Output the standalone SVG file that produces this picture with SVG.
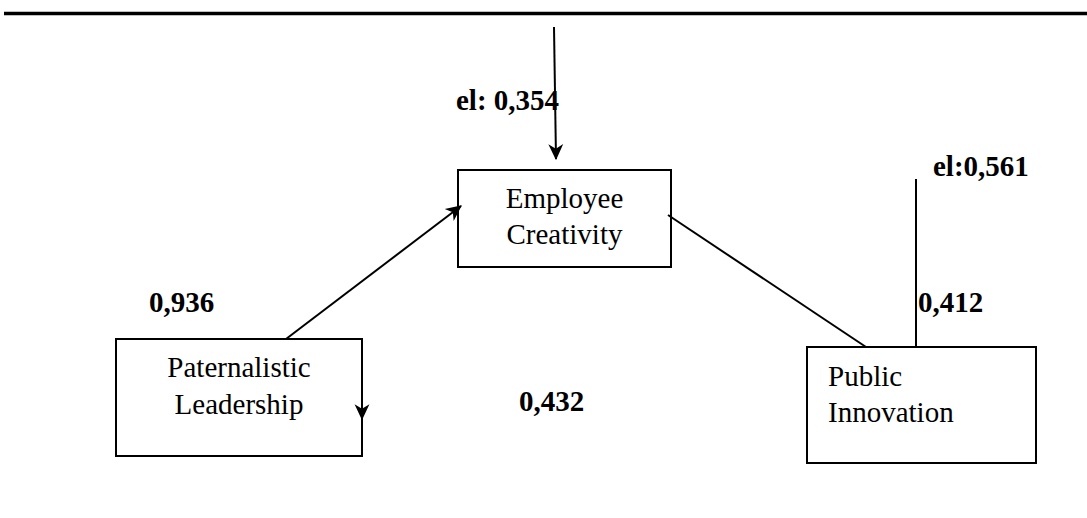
<svg xmlns="http://www.w3.org/2000/svg" width="1087" height="518" viewBox="0 0 1087 518">
<style>
.box{fill:#fff;stroke:#000;stroke-width:2}
.lbl{font-family:"Liberation Serif","Times New Roman",serif;font-size:29px;fill:#000}
.num{font-family:"Liberation Serif","Times New Roman",serif;font-size:29px;font-weight:bold;fill:#000}
.con{stroke:#000;stroke-width:2;fill:none}
</style>
<defs>
<marker id="arr" markerUnits="userSpaceOnUse" markerWidth="16" markerHeight="16" viewBox="0 0 14 14" refX="13" refY="7" orient="auto">
<path d="M0,0.5 L14,7 L0,13.5 L4,7 z" fill="#000"/>
</marker>
</defs>
<rect x="0" y="0" width="1087" height="518" fill="#fff"/>
<line x1="4" y1="13.5" x2="1087" y2="13.5" stroke="#000" stroke-width="3.5"/>
<g id="employee-creativity">
<rect class="box" x="458" y="170" width="213" height="97"/>
<text class="lbl" x="564.5" y="208" text-anchor="middle">Employee</text>
<text class="lbl" x="564.5" y="244" text-anchor="middle">Creativity</text>
</g>
<g id="paternalistic-leadership">
<rect class="box" x="116" y="339" width="246" height="117"/>
<text class="lbl" x="239" y="377" text-anchor="middle">Paternalistic</text>
<text class="lbl" x="239" y="414" text-anchor="middle">Leadership</text>
</g>
<g id="public-innovation">
<rect class="box" x="807" y="347" width="229" height="116"/>
<text class="lbl" x="828" y="386">Public</text>
<text class="lbl" x="828" y="422">Innovation</text>
</g>
<g id="connectors">
<line class="con" x1="554" y1="27" x2="556" y2="159" marker-end="url(#arr)"/>
<line class="con" x1="286" y1="339" x2="461" y2="206" marker-end="url(#arr)"/>
<line class="con" x1="668" y1="215" x2="866" y2="347"/>
<line class="con" x1="916" y1="179" x2="916" y2="347"/>
<line class="con" x1="362" y1="395" x2="362" y2="419" marker-end="url(#arr)"/>
</g>
<g id="labels">
<text class="num" x="456" y="110">el: 0,354</text>
<text class="num" x="933" y="176">el:0,561</text>
<text class="num" x="149" y="312">0,936</text>
<text class="num" x="918" y="312">0,412</text>
<text class="num" x="519" y="411">0,432</text>
</g>
</svg>
